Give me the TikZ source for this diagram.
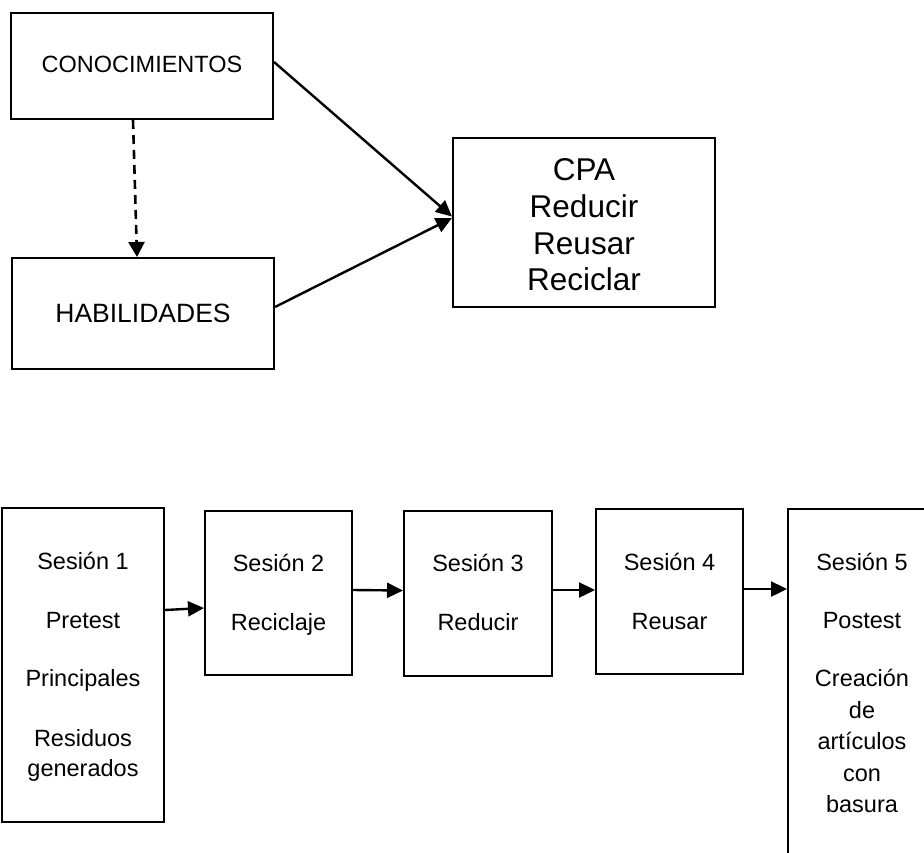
\documentclass[tikz,border=0pt]{standalone}
\usepackage{fontspec}
\setmainfont{Liberation Sans}
\usetikzlibrary{arrows.meta}
\newcommand\firstln[1]{\rule{0pt}{#1}}
\begin{document}
\begin{tikzpicture}[x=1pt,y=-1pt,
  box/.style={draw, line width=2pt, inner sep=0pt, align=center, font=\fontsize{23.5}{30}\selectfont},
  arr/.style={line width=2.4pt, -{Triangle[length=16pt,width=15pt]}},
  dasharr/.style={line width=2.6pt, dash pattern=on 9pt off 6pt, -{Triangle[length=15pt,width=16pt]}},
]
\useasboundingbox (0,0) rectangle (924,852);
\clip (0,0) rectangle (924,852);

% top part
\node[box, minimum width=262pt, minimum height=106pt] (conoc) at (142,66) {\raisebox{3pt}{CONOCIMIENTOS}};
\node[box, minimum width=262pt, minimum height=111pt, font=\fontsize{26.5}{32}\selectfont] (habil) at (143,313.5) {HABILIDADES};
\node[box, minimum width=262pt, minimum height=169pt, font=\fontsize{31.5}{36.7}\selectfont] (cpa) at (584,222.5) {\firstln{37.7pt}CPA\\Reducir\strut\\Reusar\strut\\Reciclar\strut};

\draw[arr] ([yshift=4pt]conoc.east) -- ([yshift=6pt]cpa.west);
\draw[arr] ([yshift=6.5pt]habil.east) -- ([yshift=4.5pt]cpa.west);
\draw[dasharr] ([xshift=-9pt]conoc.south) -- ([xshift=-6pt]habil.north);

% bottom part
\node[box, minimum width=162pt, minimum height=314pt] (s1) at (83,665) {\firstln{25pt}Sesión 1\strut\\[29pt]Pretest\strut\\[28pt]Principales\strut\\[30pt]Residuos\strut\\generados\strut};
\node[box, minimum width=147pt, minimum height=164pt] (s2) at (278.5,593) {\firstln{25pt}Sesión 2\strut\\[29pt]Reciclaje\strut};
\node[box, minimum width=148pt, minimum height=165pt] (s3) at (478,593.5) {\firstln{23pt}Sesión 3\strut\\[29pt]Reducir\strut};
\node[box, minimum width=147pt, minimum height=165pt] (s4) at (669.5,591.5) {\firstln{25pt}Sesión 4\strut\\[29pt]Reusar\strut};
\node[box, minimum width=148pt, minimum height=349pt, font=\fontsize{23.5}{31.5}\selectfont] (s5) at (862,683.5) {\firstln{26pt}Sesión 5\strut\\[26.5pt]Postest\strut\\[26.5pt]Creación\strut\\de\strut\\artículos\strut\\con\strut\\basura\strut};

\draw[arr] ([yshift=55pt]s1.east) -- ([yshift=-15pt]s2.west);
\draw[arr] ([yshift=3pt]s2.east) -- ([yshift=3pt]s3.west);
\draw[arr] ([yshift=3.5pt]s3.east) -- ([yshift=1.5pt]s4.west);
\draw[arr] ([yshift=2.5pt]s4.east) -- ([yshift=94.5pt]s5.west);
\end{tikzpicture}
\end{document}
